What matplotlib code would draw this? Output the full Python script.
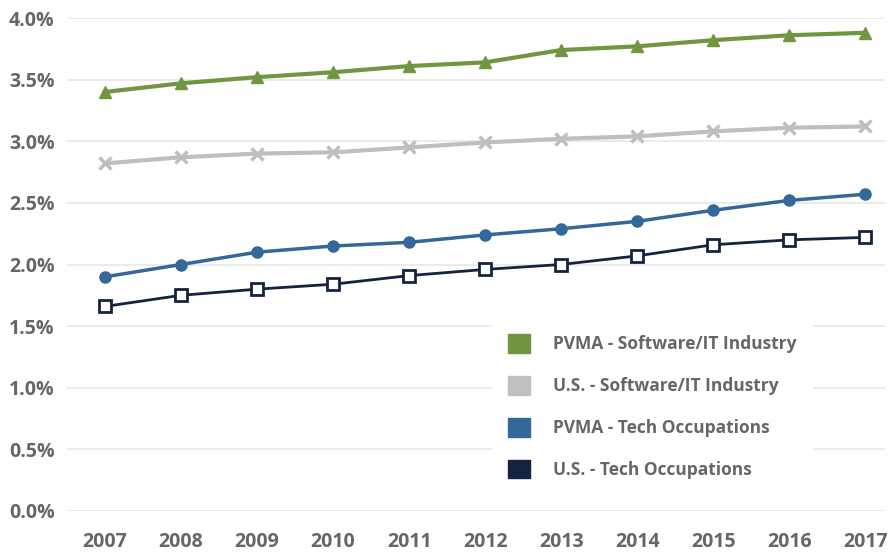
import matplotlib.pyplot as plt
from matplotlib.patches import Patch
from matplotlib.ticker import FuncFormatter

years = [2007, 2008, 2009, 2010, 2011, 2012, 2013, 2014, 2015, 2016, 2017]
pvma_software = [3.40, 3.47, 3.52, 3.56, 3.61, 3.64, 3.74, 3.77, 3.82, 3.86, 3.88]
us_software = [2.82, 2.87, 2.90, 2.91, 2.95, 2.99, 3.02, 3.04, 3.08, 3.11, 3.12]
pvma_tech = [1.90, 2.00, 2.10, 2.15, 2.18, 2.24, 2.29, 2.35, 2.44, 2.52, 2.57]
us_tech = [1.66, 1.75, 1.80, 1.84, 1.91, 1.96, 2.00, 2.07, 2.16, 2.20, 2.22]
labels = ["PVMA - Software/IT Industry", "U.S. - Software/IT Industry",
          "PVMA - Tech Occupations", "U.S. - Tech Occupations"]

green = "#70973F"
grey = "#BFBFBF"
blue = "#34679A"
navy = "#14243F"
text_col = "#666666"

plt.rcParams['font.family'] = ['Open Sans', 'DejaVu Sans']

fig = plt.figure(figsize=(8.88, 5.52), dpi=100)
ax = fig.add_axes([67 / 888, 41 / 552, 818 / 888, 493 / 552])

x = list(range(len(years)))
ax.plot(x, pvma_software, color=green, lw=3, marker="^", ms=9, zorder=4)
ax.plot(x, us_software, color=grey, lw=3, marker="x", ms=9, mew=2.5, zorder=3)
ax.plot(x, pvma_tech, color=blue, lw=2.5, marker="o", ms=8, zorder=3)
ax.plot(x, us_tech, color=navy, lw=2, marker="s", ms=9, mfc="white", mec=navy, mew=2, zorder=3)

ax.set_xlim(-0.5, 10.26)
ax.set_ylim(0, 4.0)
ax.set_yticks([i * 0.5 for i in range(9)])
ax.yaxis.set_major_formatter(FuncFormatter(lambda v, p: f"{v:.1f}%"))
ax.set_xticks(x)
ax.set_xticklabels([str(y) for y in years])
ax.grid(axis="y", color="#E8E8E8", lw=1.2)
ax.set_axisbelow(True)
for s in ax.spines.values():
    s.set_visible(False)
ax.tick_params(length=0, labelsize=14, labelcolor=text_col, pad=9)
for t in ax.get_xticklabels() + ax.get_yticklabels():
    t.set_fontweight("bold")
ax.tick_params(axis="x", pad=15)

handles = [Patch(color=c) for c in [green, grey, blue, navy]]
leg = ax.legend(handles, labels, loc="lower left", bbox_to_anchor=(0.509, 0.016),
                frameon=True, fancybox=False, edgecolor="white", framealpha=1,
                handlelength=1.3, handleheight=1.3, handletextpad=1.3,
                labelspacing=1.3, borderpad=0.9,
                prop={"size": 12.5, "weight": "bold"})
for t in leg.get_texts():
    t.set_color(text_col)

fig.savefig("out.png", dpi=100)
